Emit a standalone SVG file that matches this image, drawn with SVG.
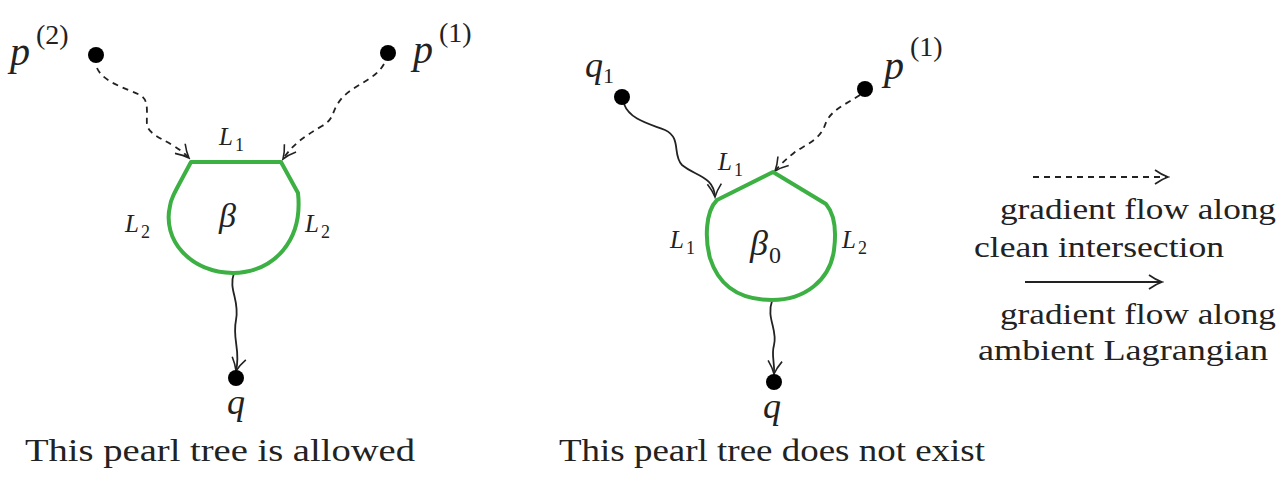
<svg xmlns="http://www.w3.org/2000/svg" width="1286" height="502" viewBox="0 0 1286 502">
<style>
.t{font-family:'Liberation Serif','DejaVu Serif','Noto Serif','Times New Roman',Times,serif;fill:#222;}
.m{font-family:'Liberation Serif','DejaVu Serif','Noto Serif','Times New Roman',Times,serif;font-style:italic;fill:#222;}
.g{fill:none;stroke:#3cb043;stroke-width:4;stroke-linejoin:round;}
.d{fill:none;stroke:#222;stroke-width:1.8;stroke-dasharray:6,5;}
.s{fill:none;stroke:#222;stroke-width:1.8;}
.dot{fill:#000;}
</style>
<defs>
<marker id="ah" markerWidth="16" markerHeight="16" refX="14" refY="8" orient="auto" markerUnits="userSpaceOnUse">
<path d="M1,1 Q8,6 14,8 Q8,10 1,15" fill="none" stroke="#222" stroke-width="1.6"/>
</marker>
</defs>
<rect width="1286" height="502" fill="#fff"/>
<g id="connectors">
<path class="d" d="M97,68 C103,82 125,88 140,95 C150,100 146,115 147,125 C150,138 172,140 189,158" marker-end="url(#ah)"/>
<path class="d" d="M384,64 C375,80 355,84 342,98 C330,112 336,118 322,126 C305,136 293,144 283,159" marker-end="url(#ah)"/>
<path class="s" d="M234,273 C228,290 240,300 236,320 C232,340 241,350 236,371" marker-end="url(#ah)"/>
<path class="s" d="M624,104 C630,120 650,124 665,130 C682,138 672,155 682,165 C695,176 714,176 715,197" marker-end="url(#ah)"/>
<path class="d" d="M860,95 C845,105 830,110 825,125 C820,140 805,145 795,152 C785,160 780,165 775,171" marker-end="url(#ah)"/>
<path class="s" d="M772,301 C766,318 778,330 774,345 C771,356 775,362 774,374" marker-end="url(#ah)"/>
<path class="d" d="M1033,177 L1168,177" marker-end="url(#ah)"/>
<path class="s" d="M1025,282 L1162,282" marker-end="url(#ah)"/>
</g>
<g id="p2"><circle class="dot" cx="96" cy="55" r="8"/><text class="m" x="10" y="65" font-size="40">p</text><text class="t" x="36" y="44" font-size="28">(2)</text></g>
<g id="p1a"><circle class="dot" cx="388" cy="53" r="8"/><text class="m" x="413" y="63" font-size="40">p</text><text class="t" x="439" y="42" font-size="28">(1)</text></g>
<g id="beta">
<path class="g" d="M191,162 L281,162 L298,193 C303,240 275,272 233,273 C190,272 162,240 170,206 C171,198 175,192 191,162 Z"/>
<text class="m" x="219" y="227" font-size="34">β</text>
<text class="m" x="219" y="145" font-size="25">L</text><text class="t" x="235" y="151" font-size="18">1</text>
<text class="m" x="125" y="232" font-size="25">L</text><text class="t" x="141" y="238" font-size="18">2</text>
<text class="m" x="305" y="232" font-size="25">L</text><text class="t" x="321" y="238" font-size="18">2</text>
</g>
<g id="q"><circle class="dot" cx="236" cy="378" r="8"/><text class="m" x="236" y="414" font-size="36" text-anchor="middle">q</text></g>
<text class="t" x="220" y="461" font-size="31" text-anchor="middle" textLength="390" lengthAdjust="spacingAndGlyphs">This pearl tree is allowed</text>
<g id="q1"><circle class="dot" cx="622" cy="97" r="8"/><text class="m" x="585" y="77" font-size="36">q</text><text class="t" x="603" y="83" font-size="22">1</text></g>
<g id="p1b"><circle class="dot" cx="865" cy="89" r="8"/><text class="m" x="884" y="79" font-size="40">p</text><text class="t" x="910" y="56" font-size="28">(1)</text></g>
<g id="beta0">
<path class="g" d="M773,172 L826,204 C836,216 836,235 834,250 C830,280 805,300 772,300 C745,300 720,290 710,258 C705,240 705,212 717,200 Z"/>
<text class="m" x="750" y="255" font-size="36">β</text><text class="t" x="769" y="263" font-size="24">0</text>
<text class="m" x="718" y="170" font-size="25">L</text><text class="t" x="734" y="176" font-size="18">1</text>
<text class="m" x="670" y="248" font-size="25">L</text><text class="t" x="686" y="254" font-size="18">1</text>
<text class="m" x="842" y="248" font-size="25">L</text><text class="t" x="858" y="254" font-size="18">2</text>
</g>
<g id="q2"><circle class="dot" cx="774" cy="382" r="8"/><text class="m" x="772" y="418" font-size="36" text-anchor="middle">q</text></g>
<text class="t" x="772" y="461" font-size="31" text-anchor="middle" textLength="426" lengthAdjust="spacingAndGlyphs">This pearl tree does not exist</text>
<g id="legend">
<text class="t" x="1276" y="219" font-size="30" text-anchor="end" textLength="276" lengthAdjust="spacingAndGlyphs">gradient flow along</text>
<text class="t" x="974" y="257" font-size="30" textLength="250" lengthAdjust="spacingAndGlyphs">clean intersection</text>
<text class="t" x="1276" y="324" font-size="30" text-anchor="end" textLength="276" lengthAdjust="spacingAndGlyphs">gradient flow along</text>
<text class="t" x="978" y="360" font-size="30" textLength="290" lengthAdjust="spacingAndGlyphs">ambient Lagrangian</text>
</g>
</svg>
